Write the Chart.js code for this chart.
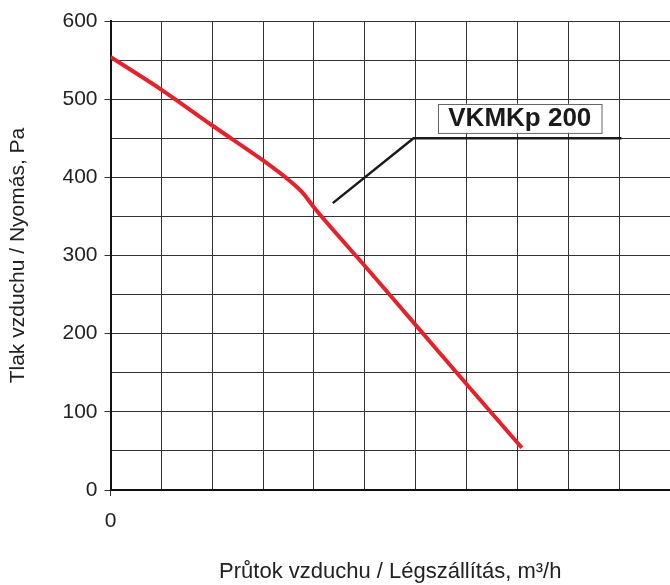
<!DOCTYPE html>
<html>
<head>
<meta charset="utf-8">
<script src="https://cdn.jsdelivr.net/npm/chart.js@4.4.1/dist/chart.umd.min.js"></script>
<style>
  html, body { margin: 0; padding: 0; background: #fff; overflow: hidden; }
  #wrap { width: 670px; height: 585px; }
</style>
</head>
<body>
<div id="wrap"><canvas id="chart" width="670" height="585"></canvas></div>
<script>
// red fan curve
const flow = [0, 100, 200, 300, 350, 375, 400, 500, 600, 700, 805];
const pressure = [554, 512, 466, 421, 396, 381, 360, 285, 209, 133, 54];

// leader line to the label
const leaderX = [435, 593, 1000];
const leaderY = [367, 450, 450];

// labelled ticks
const xTickLabels = [0, 200, 400, 600, 800, 1000];
const yTickLabels = [0, 100, 200, 300, 400, 500, 600];

const labelText = "VKMKp 200";
const labelBox = { x1: 641, x2: 961, y1: 494, y2: 457 };

const xTitle = "Průtok vzduchu / Légszállítás, m³/h";
const yTitle = "Tlak vzduchu / Nyomás, Pa";

const toPoints = (xs, ys) => xs.map((x, i) => ({ x: x, y: ys[i] }));
const isLabelled = (list, v) => list.some(t => Math.abs(t - v) < 1e-6);

const labelPlugin = {
  id: "labelBox",
  afterDatasetsDraw(chart) {
    const { ctx, scales } = chart;
    const l = scales.x.getPixelForValue(labelBox.x1);
    const r = scales.x.getPixelForValue(labelBox.x2);
    const t = scales.y.getPixelForValue(labelBox.y1);
    const b = scales.y.getPixelForValue(labelBox.y2);
    ctx.save();
    ctx.fillStyle = "#fff";
    ctx.fillRect(l, t, r - l, b - t);
    ctx.strokeStyle = "#666";
    ctx.lineWidth = 1;
    ctx.strokeRect(Math.round(l) + 0.5, Math.round(t) + 0.5, r - l, b - t);
    ctx.fillStyle = "#1a1a1a";
    ctx.font = "bold 26px 'Liberation Sans', Arial, sans-serif";
    ctx.textAlign = "center";
    ctx.textBaseline = "middle";
    ctx.fillText(labelText, (l + r) / 2, (t + b) / 2 + 1);
    ctx.restore();
  }
};

Chart.defaults.font.family = "'Liberation Sans', Arial, sans-serif";
Chart.defaults.color = "#222";

const tickInk = list => c => (c.tick && isLabelled(list, c.tick.value)) ? "#333" : "rgba(0,0,0,0)";

new Chart(document.getElementById("chart").getContext("2d"), {
  type: "scatter",
  data: {
    datasets: [
      {
        data: toPoints(flow, pressure),
        showLine: true,
        borderColor: "#e8202a",
        borderWidth: 4,
        pointRadius: 0,
        cubicInterpolationMode: "monotone",
        borderCapStyle: "butt"
      },
      {
        data: toPoints(leaderX, leaderY),
        showLine: true,
        borderColor: "#1a1a1a",
        borderWidth: 2.5,
        pointRadius: 0,
        tension: 0
      }
    ]
  },
  options: {
    responsive: false,
    animation: false,
    layout: { padding: { top: 21, left: 0, right: 0, bottom: 0 } },
    plugins: { legend: { display: false }, tooltip: { enabled: false } },
    scales: {
      x: {
        type: "linear",
        min: 0,
        max: 1095,
        afterBuildTicks: s => { s.ticks = s.ticks.filter(t => t.value <= 1000); },
        afterFit: s => { s.height = 95; },
        border: { color: "#111", width: 2 },
        grid: { color: "#333", lineWidth: 1, tickLength: 6, tickColor: tickInk(xTickLabels) },
        ticks: {
          stepSize: 100,
          padding: 13,
          maxRotation: 0,
          autoSkip: false,
          font: { size: 21 },
          color: "#222",
          callback: v => (isLabelled(xTickLabels, v) ? String(v) : "")
        },
        title: {
          display: true,
          text: xTitle,
          font: { size: 22 },
          color: "#222",
          padding: { top: 0, bottom: 0 }
        }
      },
      y: {
        min: 0,
        max: 600,
        afterFit: s => { s.width = 110.5; },
        border: { color: "#111", width: 2 },
        grid: { color: "#333", lineWidth: 1, tickLength: 6, tickColor: tickInk(yTickLabels) },
        ticks: {
          stepSize: 50,
          padding: 7,
          autoSkip: false,
          font: { size: 21 },
          color: "#222",
          callback: v => (isLabelled(yTickLabels, v) ? String(v) : "")
        },
        title: {
          display: true,
          text: yTitle,
          font: { size: 21 },
          color: "#222",
          padding: { top: 6, bottom: 0 }
        }
      }
    }
  },
  plugins: [labelPlugin]
});
</script>
</body>
</html>
